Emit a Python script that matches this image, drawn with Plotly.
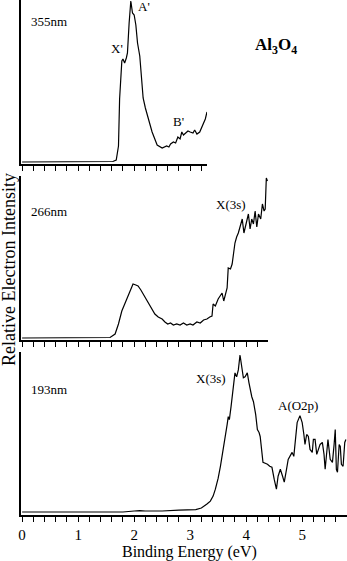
import plotly.graph_objects as go

W, H = 347, 561

# ---------------- data (binding energy eV, relative intensity, arb. units) ----
be_355 = [0.0, 0.5, 1.0, 1.5, 1.62, 1.68, 1.72, 1.74, 1.78, 1.80, 1.83, 1.86, 1.88, 1.91, 1.94,
          1.97, 2.0, 2.03, 2.06, 2.1, 2.13, 2.16, 2.2, 2.25, 2.32, 2.41, 2.5, 2.58, 2.62, 2.65,
          2.7, 2.74, 2.78, 2.82, 2.85, 2.88, 2.92, 2.96, 3.0, 3.05, 3.08, 3.12, 3.17, 3.22, 3.27, 3.3]
int_355 = [1, 1, 1, 1, 1.5, 3, 17, 64, 102, 104, 100, 105, 110, 140, 162,
           150, 148, 138, 120, 107, 80, 65, 55, 45, 31, 18, 15, 17, 16, 19,
           21, 20, 26, 24, 31, 28, 30, 32, 31, 30, 33, 29, 31, 37, 44, 51]

be_266 = [0.0, 1.0, 1.5, 1.57, 1.66, 1.72, 1.78, 1.83, 1.87, 1.93, 1.98, 2.03, 2.07, 2.12, 2.16,
          2.21, 2.25, 2.31, 2.37, 2.43, 2.5, 2.55, 2.6, 2.65, 2.7, 2.76, 2.82, 2.88, 2.94, 3.0,
          3.05, 3.12, 3.18, 3.24, 3.3, 3.35, 3.39, 3.41, 3.45, 3.5, 3.54, 3.57, 3.6, 3.63, 3.66,
          3.68, 3.72, 3.75, 3.78, 3.8, 3.83, 3.86, 3.9, 3.93, 3.96, 4.0, 4.04, 4.07, 4.1, 4.13,
          4.16, 4.19, 4.22, 4.26, 4.29, 4.32, 4.34, 4.36, 4.38]
int_266 = [1, 1, 1, 1.5, 5, 15, 28, 35, 40, 50, 55, 54, 53, 49, 45,
           40, 36, 30, 25, 22, 20, 17, 15, 16, 14, 15, 14, 16, 14, 15,
           14, 17, 16, 19, 20, 22, 23, 35, 33, 40, 43, 46, 38, 44, 51,
           71, 70, 75, 90, 96, 102, 106, 114, 120, 106, 115, 125, 110, 120, 115,
           128, 112, 125, 120, 135, 128, 130, 161, 158]

be_193 = [0.0, 0.5, 1.0, 1.5, 1.8, 2.0, 2.1, 2.2, 2.5, 2.8, 3.0, 3.1, 3.2, 3.23, 3.3,
          3.36, 3.41, 3.45, 3.5, 3.54, 3.58, 3.63, 3.66, 3.68, 3.70, 3.73, 3.77, 3.8, 3.83, 3.86,
          3.89, 3.92, 3.95, 3.98, 4.02, 4.05, 4.07, 4.1, 4.13, 4.17, 4.2, 4.23, 4.25, 4.28, 4.3,
          4.34, 4.38, 4.42, 4.46, 4.5, 4.54, 4.57, 4.61, 4.65, 4.68, 4.72, 4.75, 4.8, 4.82, 4.85,
          4.88, 4.91, 4.96, 5.0, 5.03, 5.05, 5.08, 5.11, 5.14, 5.18, 5.2, 5.23, 5.26, 5.29, 5.32,
          5.36, 5.39, 5.41, 5.44, 5.46, 5.5, 5.54, 5.57, 5.59, 5.61, 5.63, 5.66, 5.68, 5.7, 5.73,
          5.76, 5.78]
int_193 = [2, 2, 1.5, 1.5, 2, 3, 3.5, 3, 3, 4, 4, 4.5, 6, 7, 10,
           13, 18, 25, 36, 48, 62, 75, 90, 98, 95, 108, 132, 142, 138, 145,
           160, 148, 137, 138, 142, 132, 125, 118, 113, 100, 85, 82, 78, 62, 52,
           51, 50, 48, 47, 35, 25, 38, 45, 38, 32, 45, 55, 60, 62, 58,
           75, 92, 99, 92, 80, 70, 80, 78, 65, 62, 75, 75, 60, 65, 70,
           72, 60, 45, 62, 75, 55, 52, 70, 85, 45, 42, 70, 68, 50, 48,
           72, 75]

x_tickvals = [0, 1, 2, 3, 4, 5]
x_ticklabels = ["0", "1", "2", "3", "4", "5"]

# ---------------- layout helpers ----------------
def px(x):
    return x / W

def py(y):
    return 1 - y / H

FONT = "Liberation Serif, Times New Roman, serif"

panels = [
    # (x data, y data, right px, top px, bottom px, x max)
    (be_355, int_355, 207, 0, 164, 3.30),
    (be_266, int_266, 268, 176, 340, 4.39),
    (be_193, int_193, 347, 352, 515, 5.80),
]

fig = go.Figure()
layout = dict(
    template="none",
    width=W, height=H, margin=dict(l=0, r=0, t=0, b=0, autoexpand=False),
    paper_bgcolor="white", plot_bgcolor="white", showlegend=False,
    font=dict(family=FONT, color="black"),
)

for i, (xd, yd, right, top, bot, xmax) in enumerate(panels):
    n = i + 1
    xa = "x" if n == 1 else f"x{n}"
    ya = "y" if n == 1 else f"y{n}"
    fig.add_trace(go.Scatter(x=xd, y=yd, mode="lines", xaxis=xa, yaxis=ya,
                             line=dict(color="black", width=1.2), hoverinfo="skip"))
    last = (n == 3)
    layout["xaxis" if n == 1 else f"xaxis{n}"] = dict(
        domain=[px(21), px(right)], range=[-0.02, xmax], anchor=ya, automargin=False,
        showline=True, linecolor="black", linewidth=1.5, showgrid=False, zeroline=False,
        ticks="outside", ticklen=5, tickwidth=1.2, tickcolor="black",
        tickmode="array", tickvals=x_tickvals,
        ticktext=x_ticklabels, showticklabels=last,
        tickfont=dict(family=FONT, size=15, color="black"),
        minor=dict(dtick=0.2, tick0=0, ticks="outside", ticklen=5, tickwidth=1.2,
                   tickcolor="black", showgrid=False),
    )
    layout["yaxis" if n == 1 else f"yaxis{n}"] = dict(
        domain=[py(bot), py(top)], range=[-1, 163], anchor=xa, automargin=False,
        showline=True, linecolor="black", linewidth=1.5, showgrid=False, zeroline=False,
        showticklabels=False, ticks="",
    )

fig.update_layout(**layout)

def ann(text, x, y, size=13, bold=False, angle=0):
    fig.add_annotation(text=f"<b>{text}</b>" if bold else text, x=px(x), y=py(y),
                       xref="paper", yref="paper", showarrow=False, textangle=angle,
                       font=dict(family=FONT, size=size, color="black"),
                       xanchor="center", yanchor="middle")

ann("355nm", 49, 22)
ann("X'", 117, 48)
ann("A'", 144, 6)
ann("B'", 179, 121)
ann("Al<sub>3</sub>O<sub>4</sub>", 276, 46, size=17, bold=True)
ann("266nm", 49, 211)
ann("X(3s)", 231, 204)
ann("193nm", 49, 389)
ann("X(3s)", 211, 378)
ann("A(O2p)", 298, 405)
ann("Relative Electron Intensity", 9, 270, size=18, angle=-90)
ann("Binding Energy (eV)", 189, 552, size=16)

fig.write_html("out.html", config={"displayModeBar": False},
               post_script="document.body.style.margin='0';document.body.style.padding='0';")
